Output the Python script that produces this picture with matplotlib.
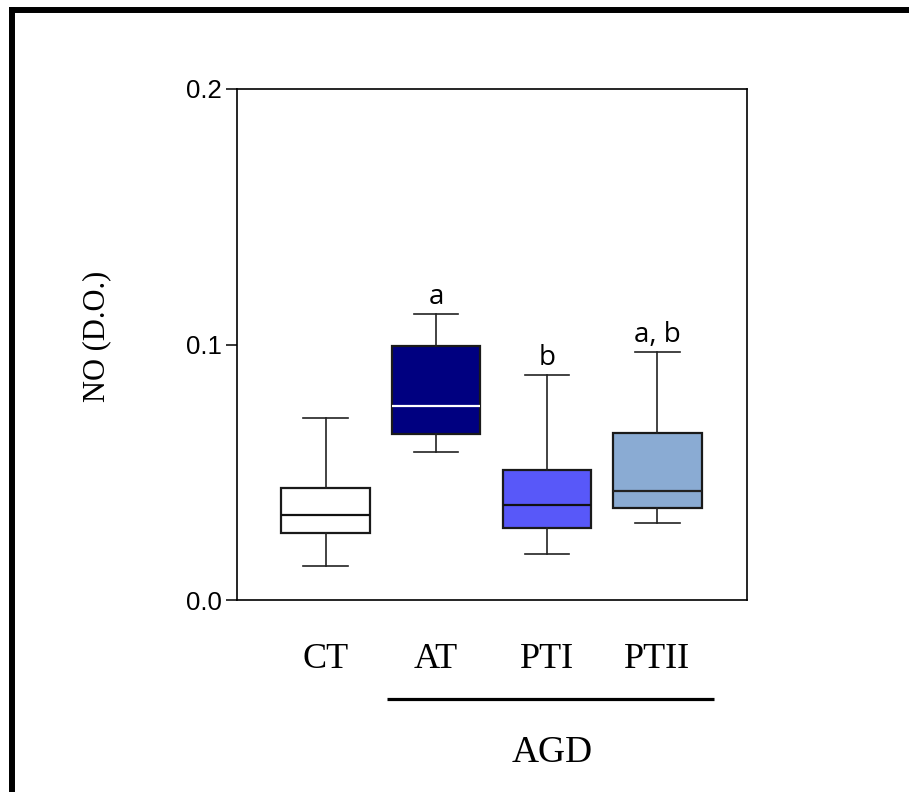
import matplotlib
matplotlib.use("Agg")
import matplotlib.pyplot as plt
from matplotlib.lines import Line2D

# groups and box statistics (NO, optical density)
groups = ["CT", "AT", "PTI", "PTII"]
whisker_low = [0.0132, 0.0580, 0.0180, 0.0301]
q1 = [0.0261, 0.0648, 0.0282, 0.0361]
median = [0.0331, 0.0759, 0.0372, 0.0428]
q3 = [0.0440, 0.0994, 0.0510, 0.0655]
whisker_high = [0.0712, 0.1121, 0.0881, 0.0972]
letters = ["", "a", "b", "a, b"]

box_colors = ["#ffffff", "#000080", "#5858f9", "#8aabd3"]
median_colors = ["#111111", "#ffffff", "#111111", "#222222"]

fig = plt.figure(figsize=(9.09, 7.92), dpi=100)
ax = fig.add_axes([237 / 909, 1 - 600 / 792, 510 / 909, 511 / 792])

positions = list(range(1, len(groups) + 1))
stats = []
for i, g in enumerate(groups):
    stats.append(dict(label=g, whislo=whisker_low[i], q1=q1[i], med=median[i],
                      q3=q3[i], whishi=whisker_high[i], fliers=[]))

bp = ax.bxp(stats, positions=positions, widths=0.8, patch_artist=True,
            showfliers=False,
            boxprops=dict(linewidth=1.6, edgecolor="#1a1a1a"),
            whiskerprops=dict(linewidth=1.2, color="#222222"),
            capprops=dict(linewidth=1.2, color="#222222"),
            medianprops=dict(linewidth=1.6))
for patch, c in zip(bp["boxes"], box_colors):
    patch.set_facecolor(c)
for line, c in zip(bp["medians"], median_colors):
    line.set_color(c)
for cap in bp["caps"]:
    xd = cap.get_xdata()
    mid = (xd[0] + xd[1]) / 2
    cap.set_xdata([mid - 0.2, mid + 0.2])

# significance letters above the whiskers
for p, hi, lab in zip(positions, whisker_high, letters):
    if lab:
        ax.annotate(lab, xy=(p, hi), xytext=(0, 7), textcoords="offset points",
                    ha="center", va="baseline", fontsize=20, family="Open Sans")

ax.set_xlim(0.2, 4.81)
ax.set_ylim(0, 0.2)
ax.set_yticks([0.0, 0.1, 0.2])
ax.set_yticklabels(["0.0", "0.1", "0.2"])
ax.tick_params(axis="y", length=8, width=1.1, pad=3, labelsize=18.5)
for t in ax.get_yticklabels():
    t.set_family("Liberation Sans")
ax.set_xticks([])
for s in ax.spines.values():
    s.set_linewidth(1.2)
    s.set_color("black")

# group labels under the axis
for p, g in zip(positions, groups):
    ax.annotate(g, xy=(p, 0), xycoords=("data", "axes fraction"),
                xytext=(0, -68 / 1.389), textcoords="offset points",
                ha="center", va="baseline", fontsize=26, family="Liberation Serif")

# AGD bracket
ax.plot([1.56, 4.51], [-0.194, -0.194], transform=ax.get_xaxis_transform(),
        color="black", lw=2.3, clip_on=False, solid_capstyle="butt")
ax.annotate("AGD", xy=(3.05, 0), xycoords=("data", "axes fraction"),
            xytext=(0, -162 / 1.389), textcoords="offset points",
            ha="center", va="baseline", fontsize=27, family="Liberation Serif")

fig.text(97 / 909, 1 - 336 / 792, "NO (D.O.)", rotation=90, ha="center",
         va="center", fontsize=22, family="Liberation Serif")

# heavy frame around the figure (left and top edges)
fig.add_artist(Line2D([12 / 909, 12 / 909], [0, 1 - 10 / 792],
                      transform=fig.transFigure, color="black", lw=4.3,
                      solid_capstyle="projecting"))
fig.add_artist(Line2D([12 / 909, 1], [1 - 10 / 792, 1 - 10 / 792],
                      transform=fig.transFigure, color="black", lw=4.3,
                      solid_capstyle="projecting"))

fig.savefig("out.png", dpi=100)
